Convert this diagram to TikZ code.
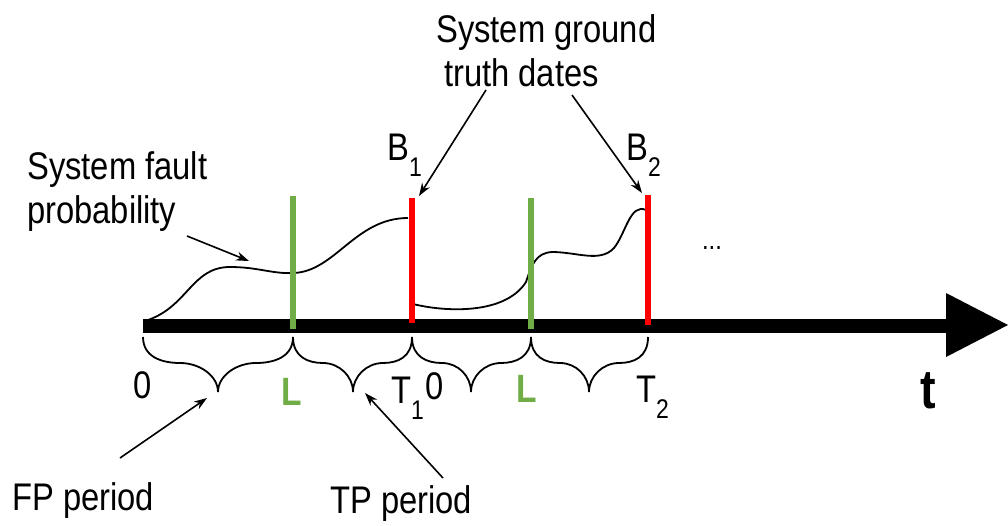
\documentclass[tikz,border=0pt]{standalone}
\usepackage{fontspec}
\setmainfont{Liberation Sans}[FakeStretch=0.85]
\usetikzlibrary{arrows.meta}
\definecolor{lgreen}{RGB}{112,173,71}
\definecolor{lred}{RGB}{255,0,0}
\newcommand\lowsub[1]{\raisebox{-16pt}{\fontsize{27}{27}\selectfont #1}}
\begin{document}
\begin{tikzpicture}[x=1pt,y=-1pt,
  lbl/.style={inner sep=0pt,anchor=base west,font=\fontsize{38.5}{44}\selectfont},
  glbl/.style={lbl,font=\fontsize{39.5}{44}\selectfont\bfseries,text=lgreen},
  curveline/.style={line width=1.8pt,black},
  pointer/.style={line width=1.6pt,-{Stealth[length=13pt,width=9pt]}},
  bracestyle/.style={line width=1.8pt,black},
  gbar/.style={line width=5.5pt,lgreen},
  rbar/.style={line width=5.5pt,lred}]
\useasboundingbox (0,0) rectangle (1008,525);

% axis
\coordinate (ax0) at (143,326);
\coordinate (ax1) at (948,326);
\draw[line width=14pt] (ax0) -- (ax1);
\fill (946,293) -- (1008,325) -- (946,357) -- cycle;

% vertical markers
\coordinate (g1t) at (293,196); \coordinate (g1b) at (293,329);
\coordinate (r1t) at (412,198); \coordinate (r1b) at (412,323);
\coordinate (g2t) at (531,198); \coordinate (g2b) at (531,329);
\coordinate (r2t) at (648,195); \coordinate (r2b) at (648,325);

% curves
\draw[curveline] (148,320) .. controls (188,306) and (192,267) .. (230,267)
  .. controls (258,267) and (272,274) .. (293,273)
  .. controls (335,272) and (355,218) .. (408,218);
\draw[curveline] (413,304) .. controls (445,312) and (505,315) .. (526,282)
  .. controls (532,264) and (536,253) .. (552,252)
  .. controls (577,252) and (600,263) .. (614,248)
  .. controls (626,233) and (630,203) .. (646,210);

\draw[gbar] (g1t) -- (g1b);
\draw[rbar] (r1t) -- (r1b);
\draw[gbar] (g2t) -- (g2b);
\draw[rbar] (r2t) -- (r2b);

% braces
\draw[bracestyle] (143,337) .. controls +(0,20) and +(-18,0) .. (180,363)
  .. controls +(20,0) and +(0,-16) .. (218,392)
  .. controls +(0,-16) and +(-20,0) .. (256,363)
  .. controls +(18,0) and +(0,20) .. (293,337);
\draw[bracestyle] (293,337) .. controls +(0,20) and +(-15,0) .. (323,363)
  .. controls +(16,0) and +(0,-16) .. (353,392)
  .. controls +(0,-16) and +(-16,0) .. (383,363)
  .. controls +(15,0) and +(0,20) .. (412,337);
\draw[bracestyle] (412,337) .. controls +(0,20) and +(-15,0) .. (442,363)
  .. controls +(16,0) and +(0,-16) .. (471,392)
  .. controls +(0,-16) and +(-16,0) .. (501,363)
  .. controls +(15,0) and +(0,20) .. (531,337);
\draw[bracestyle] (531,337) .. controls +(0,20) and +(-15,0) .. (560,363)
  .. controls +(16,0) and +(0,-16) .. (589,392)
  .. controls +(0,-16) and +(-16,0) .. (619,363)
  .. controls +(15,0) and +(0,20) .. (648,337);

% texts
\node[lbl] (sg) at (436,42) {System ground};
\node[lbl] (td) at (444,86) {truth dates};
\node[lbl] (sf) at (27,179) {System fault};
\node[lbl] (pr) at (27,223) {probability};
\node[lbl] (b1) at (387,160) {B\lowsub{1}};
\node[lbl] (b2) at (626,160) {B\lowsub{2}};
\node[inner sep=0pt,anchor=base,font=\fontsize{28}{28}\selectfont] (dots) at (712,249) {...};
\node[lbl] (z1) at (133,398) {0};
\node[glbl] (l1) at (281,405) {L};
\node[lbl] (t1) at (391,403) {T\lowsub{1}};
\node[lbl] (z2) at (425,399) {0};
\node[glbl] (l2) at (516,402) {L};
\node[lbl] (t2) at (636,402) {T\lowsub{2}};
\node[inner sep=0pt,anchor=base west,font=\fontsize{55}{60}\selectfont\bfseries] (tt) at (920,408) {t};
\node[lbl] (fp) at (12,510) {FP period};
\node[lbl] (tp) at (330,513) {TP period};

% pointers
\coordinate (prs) at (187,236); \coordinate (pre) at (249,261);
\coordinate (sgs) at (486,90);
\coordinate (tds) at (572,95);
\coordinate (fps) at (120,458); \coordinate (fpe) at (207,398);
\coordinate (tps) at (443,478); \coordinate (tpe) at (365,393);
\draw[pointer] (prs) -- (pre);
\draw[pointer] (sgs) -- ([xshift=7pt,yshift=2pt]r1t);
\draw[pointer] (tds) -- ([xshift=-6pt,yshift=2pt]r2t);
\draw[pointer] (fps) -- (fpe);
\draw[pointer] (tps) -- (tpe);
\end{tikzpicture}
\end{document}
